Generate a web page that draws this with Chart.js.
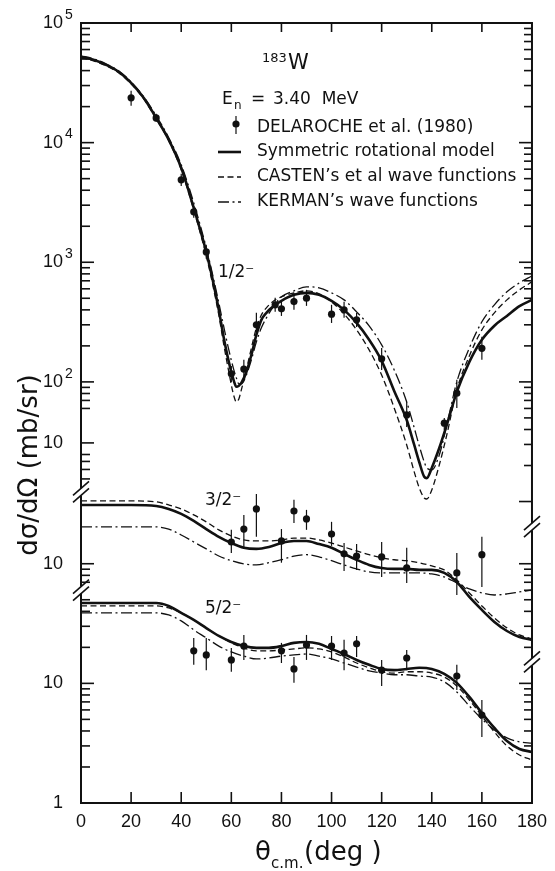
<!DOCTYPE html>
<html>
<head>
<meta charset="utf-8">
<title>183W inelastic neutron scattering, En = 3.40 MeV</title>
<script src="https://cdn.jsdelivr.net/npm/chart.js@4.4.0/dist/chart.umd.min.js"></script>
<style>
  html, body { margin: 0; padding: 0; background: #fff; }
  #wrap { position: relative; width: 555px; height: 871px; }
</style>
</head>
<body>
<div id="wrap"><canvas id="xsec"></canvas></div>
<script>
// Angular distributions for 183W(n,n'), levels 1/2-, 3/2-, 5/2-.
// Angles are c.m. degrees, cross sections in mb/sr.

// ---- 1/2- level ----
const TH_HALF = [0, 5, 10, 15, 20, 25, 30, 35, 40, 45, 50, 53, 55, 57, 59, 61, 62, 63, 64, 66,
  68, 70, 72, 74, 77, 80, 85, 90, 95, 100, 105, 110, 115, 120, 125, 130, 133, 135, 137, 138,
  140, 143, 146, 150, 155, 160, 165, 170, 175, 180];
const SYM_HALF = [52200, 49300, 44700, 39100, 31600, 23700, 16100, 10600, 6160, 2850,
  1220, 647, 400, 233, 147, 102, 91, 93, 98, 121,
  168, 247, 330, 378, 432, 476, 534, 555, 534, 476,
  400, 311, 225, 150, 84, 48, 29.7, 21.4, 16.1, 15.7,
  19.1, 28, 43.7, 82.5, 147, 225, 295, 356, 430, 485];
const CAS_HALF = [51200, 48300, 43900, 38400, 31000, 23200, 15800, 10400, 5930, 2740,
  1130, 588, 363, 204, 121, 76.4, 68, 72.1, 85.8, 126,
  192, 283, 363, 416, 476, 514, 555, 577, 544, 467,
  370, 272, 185, 114, 60.6, 29.7, 17.7, 13.0, 10.7, 10.5,
  12.5, 20.2, 36.1, 85.8, 165, 272, 378, 485, 588, 686];
const KER_HALF = [53200, 50200, 45600, 39800, 32200, 24200, 16800, 11000, 6520, 3140,
  1320, 713, 458, 288, 185, 126, 108, 96.2, 96.2, 114,
  153, 216, 283, 343, 432, 514, 577, 623, 611, 555,
  485, 385, 294, 204, 126, 68, 41.3, 29.2, 21.4, 19.1,
  18.4, 24.5, 43.7, 100, 192, 318, 441, 566, 673, 770];

const EXP_TH_HALF = [20, 30, 40, 45, 50, 60, 65, 70, 77.5, 80, 85, 90, 100, 105, 110, 120, 130, 145, 150, 160];
const EXP_HALF    = [23700, 16100, 4890, 2640, 1220, 117, 128, 300, 441, 408, 469, 501, 368, 400, 330, 156, 53, 45.2, 80.5, 191];
const EXP_HALF_LO = [20300, 14900, 4350, 2350, 1070, 100, 104, 238, 385, 356, 400, 432, 311, 343, 288, 126, 42, 39.7, 60.6, 153];
const EXP_HALF_HI = [27100, 17400, 5490, 2960, 1400, 136, 153, 378, 504, 467, 555, 588, 441, 467, 378, 192, 68, 50, 104, 238];

// ---- 3/2- and 5/2- levels share one angle grid ----
const TH_LOW = [0, 10, 20, 30, 35, 40, 45, 50, 55, 60, 65, 70, 75, 80, 85, 90, 95, 100, 105, 110,
  115, 120, 125, 130, 135, 140, 145, 150, 155, 160, 165, 170, 175, 180];

const SYM_3H = [31.0, 31.0, 31.0, 30.4, 28.7, 26.1, 22.8, 19.5, 16.8, 14.9, 13.6, 13.3, 13.8, 14.9, 15.5, 15.5, 14.6, 13.6, 12.1, 10.8,
  9.77, 9.2, 9.05, 9.05, 8.88, 8.88, 8.38, 7.04, 5.28, 4.11, 3.26, 2.74, 2.44, 2.31];
const CAS_3H = [33.5, 33.5, 33.5, 32.9, 31.0, 28.7, 25.6, 22.4, 19.2, 17.1, 15.8, 15.5, 15.5, 15.8, 16.4, 16.4, 15.8, 14.9, 13.8, 12.8,
  11.9, 11.2, 10.8, 10.6, 10.2, 9.58, 8.88, 7.32, 5.70, 4.44, 3.52, 2.91, 2.54, 2.35];
const KER_3H = [20.3, 20.3, 20.3, 20.3, 19.5, 17.4, 15.2, 13.3, 11.6, 10.6, 9.96, 9.77, 10.2, 10.8, 11.6, 11.9, 11.4, 10.6, 9.77, 9.05,
  8.54, 8.38, 8.38, 8.38, 8.38, 8.22, 7.76, 6.91, 6.16, 5.70, 5.48, 5.59, 5.81, 6.04];

const EXP_TH_3H = [60, 65, 70, 80, 85, 90, 100, 105, 110, 120, 130, 150, 160];
const EXP_3H    = [15.2, 19.5, 28.7, 15.5, 27.6, 23.7, 17.7, 12.1, 11.6, 11.4, 9.22, 8.38, 11.9];
const EXP_3H_LO = [12.3, 13.6, 16.8, 10.2, 21.9, 19.2, 14.1, 8.71, 8.88, 7.76, 6.91, 5.48, 6.40];
const EXP_3H_HI = [19.2, 25.6, 38.3, 19.5, 34.2, 28.2, 22.4, 14.9, 14.6, 15.2, 13.6, 12.3, 16.8];

const SYM_5H = [47.0, 47.0, 47.0, 47.0, 44.4, 38.8, 33.9, 29.0, 24.9, 22.2, 20.5, 19.8, 19.8, 20.5, 21.8, 22.2, 21.4, 19.4, 17.6, 15.7,
  14.3, 13.2, 12.9, 13.2, 13.5, 13.2, 12.0, 10.1, 7.70, 5.65, 4.24, 3.30, 2.83, 2.67];
const CAS_5H = [44.4, 44.4, 44.4, 44.4, 42.7, 38.8, 33.9, 29.0, 24.9, 21.8, 19.8, 18.7, 18.7, 19.0, 19.4, 19.8, 19.4, 18.3, 16.6, 14.8,
  13.5, 12.5, 12.2, 12.5, 12.5, 12.2, 11.3, 9.51, 7.26, 5.34, 3.92, 3.00, 2.52, 2.29];
const KER_5H = [38.8, 38.8, 38.8, 38.8, 37.3, 33.3, 28.0, 24.0, 20.5, 18.3, 16.9, 16.0, 16.3, 16.9, 17.3, 17.6, 16.9, 16.0, 14.8, 13.7,
  12.7, 12.2, 11.8, 11.8, 11.5, 11.3, 10.3, 8.48, 6.47, 5.04, 4.08, 3.50, 3.24, 3.17];

const EXP_TH_5H = [45, 50, 60, 65, 80, 85, 90, 100, 105, 110, 120, 130, 150, 160];
const EXP_5H    = [18.7, 17.3, 15.7, 20.5, 18.7, 13.2, 20.9, 20.5, 17.9, 21.4, 12.9, 16.3, 11.5, 5.44];
const EXP_5H_LO = [14.3, 12.9, 12.5, 15.7, 14.8, 10.1, 15.7, 15.7, 12.9, 16.6, 9.51, 12.9, 8.81, 3.56];
const EXP_5H_HI = [24.0, 24.0, 19.8, 25.4, 21.8, 16.6, 25.4, 24.9, 23.1, 24.9, 15.7, 19.0, 14.3, 7.26];

// Broken log axis: one linear scale in decades, each level shifted by its own offset.
const OFF_HALF = 1.52, OFF_3H = 1.0, OFF_5H = 0;
const Y_TOP = 6.52;
const SHORT_TEN = 3.01;            // "10" mark of the upper part (compressed decade)
const LEFT_BREAKS = [2.60, 1.78];
const RIGHT_BREAKS = [2.31, 1.18];

const lg = Math.log10;
const toY = (v, off) => lg(v) + off;

const INK = '#111';
const TICK_FONT = '"Liberation Sans", Arial, sans-serif';
const TEXT_FONT = '"DejaVu Sans", sans-serif';

const STYLE = {
  sym: { w: 2.6, dash: [] },
  cas: { w: 1.3, dash: [6, 3.5] },
  ker: { w: 1.3, dash: [11, 3.5, 2, 3.5] }
};

function curve(th, vals, off, st) {
  return {
    showLine: true,
    data: th.map((t, i) => ({ x: t, y: toY(vals[i], off) })),
    borderColor: INK, borderWidth: st.w, borderDash: st.dash,
    pointRadius: 0, pointHoverRadius: 0,
    cubicInterpolationMode: 'monotone', fill: false
  };
}

function points(th, vals, lo, hi, off) {
  return {
    data: th.map((t, i) => ({ x: t, y: toY(vals[i], off) })),
    errLo: lo.map(v => toY(v, off)),
    errHi: hi.map(v => toY(v, off)),
    pointRadius: 3.6, pointBackgroundColor: INK, pointBorderWidth: 0, showLine: false
  };
}

// tick marks: majors at 10^n, minors at k*10^n
function decade(list, n, off, ks) {
  ks.forEach(k => list.push({ pos: toY(k * Math.pow(10, n), off), major: k === 1 }));
}
const LEFT_TICKS = [];
[2, 3, 4].forEach(n => decade(LEFT_TICKS, n, OFF_HALF, [1, 2, 3, 4, 5, 6, 7, 8, 9]));
decade(LEFT_TICKS, 5, OFF_HALF, [1]);
decade(LEFT_TICKS, 1, OFF_HALF, [6, 7, 8, 9]);
LEFT_TICKS.push({ pos: SHORT_TEN, major: true });
[5, 6, 7, 8].forEach(k => LEFT_TICKS.push({ pos: SHORT_TEN + lg(k / 10), major: false }));
decade(LEFT_TICKS, 1, OFF_3H, [1]);
decade(LEFT_TICKS, 0, OFF_3H, [7, 8, 9]);
decade(LEFT_TICKS, 0, OFF_5H, [1, 2, 3, 4, 5, 6, 7, 8, 9]);
decade(LEFT_TICKS, 1, OFF_5H, [1, 2, 3, 4, 5]);

const RIGHT_TICKS = [];
[1, 2, 3, 4].forEach(n => decade(RIGHT_TICKS, n, OFF_HALF, [1, 2, 3, 4, 5, 6, 7, 8, 9]));
decade(RIGHT_TICKS, 5, OFF_HALF, [1]);
decade(RIGHT_TICKS, 0, OFF_3H, [2, 3, 4, 5, 6, 7, 8, 9]);
decade(RIGHT_TICKS, 1, OFF_3H, [1]);
decade(RIGHT_TICKS, 0, OFF_5H, [1, 2, 3, 4, 5, 6, 7, 8, 9]);
decade(RIGHT_TICKS, 1, OFF_5H, [1]);

// labelled values on the left axis: base text plus optional exponent
const LEFT_LABELS = [
  { pos: toY(1, OFF_5H), base: '1', exp: '' },
  { pos: toY(10, OFF_5H), base: '10', exp: '' },
  { pos: toY(10, OFF_3H), base: '10', exp: '' },
  { pos: SHORT_TEN, base: '10', exp: '' },
  { pos: toY(1e2, OFF_HALF), base: '10', exp: '2' },
  { pos: toY(1e3, OFF_HALF), base: '10', exp: '3' },
  { pos: toY(1e4, OFF_HALF), base: '10', exp: '4' },
  { pos: toY(1e5, OFF_HALF), base: '10', exp: '5' }
];

const datasets = [
  curve(TH_HALF, SYM_HALF, OFF_HALF, STYLE.sym),
  curve(TH_HALF, CAS_HALF, OFF_HALF, STYLE.cas),
  curve(TH_HALF, KER_HALF, OFF_HALF, STYLE.ker),
  curve(TH_LOW, SYM_3H, OFF_3H, STYLE.sym),
  curve(TH_LOW, CAS_3H, OFF_3H, STYLE.cas),
  curve(TH_LOW, KER_3H, OFF_3H, STYLE.ker),
  curve(TH_LOW, SYM_5H, OFF_5H, STYLE.sym),
  curve(TH_LOW, CAS_5H, OFF_5H, STYLE.cas),
  curve(TH_LOW, KER_5H, OFF_5H, STYLE.ker),
  points(EXP_TH_HALF, EXP_HALF, EXP_HALF_LO, EXP_HALF_HI, OFF_HALF),
  points(EXP_TH_3H, EXP_3H, EXP_3H_LO, EXP_3H_HI, OFF_3H),
  points(EXP_TH_5H, EXP_5H, EXP_5H_LO, EXP_5H_HI, OFF_5H)
];

function line(ctx, x1, y1, x2, y2) {
  ctx.beginPath(); ctx.moveTo(x1, y1); ctx.lineTo(x2, y2); ctx.stroke();
}

// vertical frame side with gaps and "//" marks at the breaks
function brokenSide(ctx, xp, top, bottom, breaks) {
  const gap = 3.5;
  let y0 = top;
  breaks.slice().sort((a, b) => a - b).forEach(b => {
    line(ctx, xp, y0, xp, b - gap);
    y0 = b + gap;
  });
  line(ctx, xp, y0, xp, bottom);
  ctx.save();
  ctx.lineWidth = 1.6;
  breaks.forEach(b => {
    [-gap, gap].forEach(d => line(ctx, xp - 8, b + d + 7, xp + 8, b + d - 7));
  });
  ctx.restore();
}

const decor = {
  id: 'decor',
  afterDatasetsDraw(chart) {
    const { ctx, scales: { x, y } } = chart;
    ctx.save();
    ctx.strokeStyle = INK;
    ctx.lineWidth = 1.2;
    chart.data.datasets.forEach(ds => {
      if (!ds.errLo) return;
      ds.data.forEach((p, j) => {
        const px = x.getPixelForValue(p.x);
        line(ctx, px, y.getPixelForValue(ds.errLo[j]), px, y.getPixelForValue(ds.errHi[j]));
      });
    });
    ctx.restore();
  },
  afterDraw(chart) {
    const { ctx, chartArea: a, scales: { x, y } } = chart;
    ctx.save();
    ctx.strokeStyle = INK;
    ctx.fillStyle = INK;
    ctx.lineWidth = 2;

    // frame
    line(ctx, a.left - 1, a.top, a.right + 1, a.top);
    line(ctx, a.left - 1, a.bottom, a.right + 1, a.bottom);
    brokenSide(ctx, a.left, a.top, a.bottom, LEFT_BREAKS.map(p => y.getPixelForValue(p)));
    brokenSide(ctx, a.right, a.top, a.bottom, RIGHT_BREAKS.map(p => y.getPixelForValue(p)));

    // inward tick marks
    ctx.lineWidth = 1.6;
    for (let t = 20; t < 180; t += 20) {
      const px = x.getPixelForValue(t);
      line(ctx, px, a.top, px, a.top + 9);
      line(ctx, px, a.bottom, px, a.bottom - 11);
    }
    LEFT_TICKS.forEach(t => {
      const py = y.getPixelForValue(t.pos);
      line(ctx, a.left, py, a.left + (t.major ? 13 : 9), py);
    });
    RIGHT_TICKS.forEach(t => {
      const py = y.getPixelForValue(t.pos);
      line(ctx, a.right, py, a.right - (t.major ? 13 : 8), py);
    });

    // left axis labels at the scale's own ticks, with raised exponents
    ctx.textBaseline = 'middle';
    y.ticks.forEach((tk, i) => {
      const lab = LEFT_LABELS[i];
      const py = y.getPixelForValue(tk.value);
      ctx.textAlign = 'right';
      ctx.font = '18px ' + TICK_FONT;
      ctx.fillText(lab.base, a.left - 18, py);
      if (lab.exp) {
        ctx.textAlign = 'left';
        ctx.font = '14px ' + TICK_FONT;
        ctx.fillText(lab.exp, a.left - 16, py - 8);
      }
    });

    // nucleus, energy, legend
    ctx.textBaseline = 'alphabetic';
    ctx.textAlign = 'left';
    ctx.font = '13px ' + TEXT_FONT;
    ctx.fillText('183', 262, 62);
    ctx.font = '21px ' + TEXT_FONT;
    ctx.fillText('W', 288, 69);

    ctx.font = '17px ' + TEXT_FONT;
    ctx.fillText('E', 222, 104);
    ctx.font = '12px ' + TEXT_FONT;
    ctx.fillText('n', 234, 109);
    ctx.font = '17px ' + TEXT_FONT;
    ctx.fillText('=', 251, 104);
    ctx.fillText('3.40  MeV', 273, 104);

    const rows = [
      { y: 128, text: 'DELAROCHE et al. (1980)' },
      { y: 152, text: 'Symmetric rotational model', st: STYLE.sym },
      { y: 177, text: 'CASTEN\u2019s et al wave functions', st: STYLE.cas },
      { y: 202, text: 'KERMAN\u2019s wave functions', st: STYLE.ker }
    ];
    ctx.textBaseline = 'middle';
    rows.forEach(r => {
      if (r.st) {
        ctx.save();
        ctx.lineWidth = r.st.w;
        ctx.setLineDash(r.st.dash);
        line(ctx, 218, r.y, 241, r.y);
        ctx.restore();
      } else {
        ctx.save();
        ctx.lineWidth = 1.2;
        line(ctx, 236, r.y - 12, 236, r.y + 6);
        ctx.beginPath();
        ctx.arc(236, r.y - 4, 3.6, 0, Math.PI * 2);
        ctx.fill();
        ctx.restore();
      }
      ctx.fillText(r.text, 257, r.y);
    });

    // level labels
    ctx.textBaseline = 'alphabetic';
    ctx.font = '17px ' + TEXT_FONT;
    ctx.fillText('1/2\u207B', 218, 277);
    ctx.fillText('3/2\u207B', 205, 505);
    ctx.fillText('5/2\u207B', 205, 613);

    // axis titles
    ctx.font = '26px ' + TEXT_FONT;
    ctx.fillText('\u03B8', 255, 860);
    ctx.font = '15px ' + TEXT_FONT;
    ctx.fillText('c.m.', 271, 868);
    ctx.font = '26px ' + TEXT_FONT;
    ctx.fillText('(deg )', 304, 860);

    ctx.translate(37, 465);
    ctx.rotate(-Math.PI / 2);
    ctx.textAlign = 'center';
    ctx.fillText('d\u03C3/d\u03A9 (mb/sr)', 0, 0);
    ctx.restore();
  }
};

new Chart(document.getElementById('xsec'), {
  type: 'scatter',
  data: { datasets },
  options: {
    responsive: true,
    maintainAspectRatio: false,
    animation: false,
    devicePixelRatio: 1,
    layout: { padding: { left: 0, right: 18, top: 23, bottom: 0 } },
    plugins: { legend: { display: false }, tooltip: { enabled: false } },
    scales: {
      x: {
        type: 'linear', min: 0, max: 180,
        grid: { display: false, drawTicks: false },
        border: { display: false },
        ticks: { stepSize: 20, padding: 8, color: INK, font: { family: TICK_FONT, size: 18 } },
        afterFit: s => { s.height = 68; }
      },
      y: {
        type: 'linear', min: 0, max: Y_TOP, bounds: 'data',
        grid: { display: false, drawTicks: false },
        border: { display: false },
        ticks: { display: false, autoSkip: false },
        afterBuildTicks: s => { s.ticks = LEFT_LABELS.map(l => ({ value: l.pos })); },
        afterFit: s => { s.width = 81; }
      }
    }
  },
  plugins: [decor]
});
</script>
</body>
</html>
